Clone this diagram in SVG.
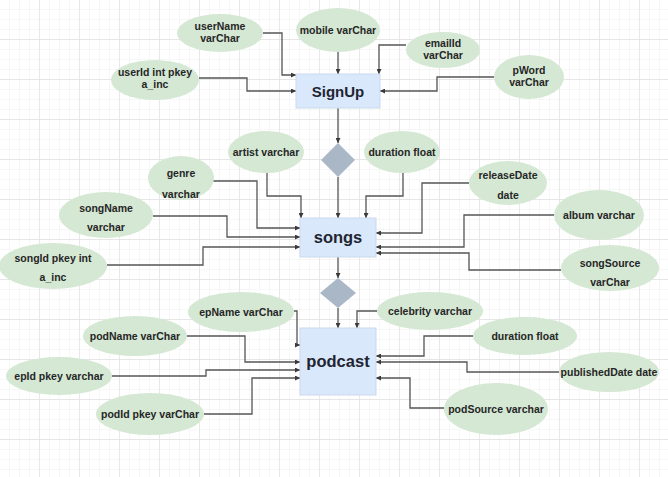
<svg xmlns="http://www.w3.org/2000/svg" width="668" height="477" viewBox="0 0 668 477">
<defs>
<pattern id="minor" width="10" height="10" patternUnits="userSpaceOnUse">
<path d="M10,0 V10 M0,10 H10" fill="none" stroke="#eeeeee" stroke-width="1"/>
</pattern>
<pattern id="major" width="40" height="40" patternUnits="userSpaceOnUse">
<rect width="40" height="40" fill="url(#minor)"/>
<path d="M40,0 V40 M0,40 H40" fill="none" stroke="#e0e0e0" stroke-width="1.3"/>
</pattern>
<marker id="arr" markerWidth="5" markerHeight="5" refX="5" refY="2.5" orient="auto" markerUnits="userSpaceOnUse">
<path d="M0,0 L5,2.5 L0,5 z" fill="#3a3a3a"/>
</marker>
<style>
.attr{fill:#d5e8d4;stroke:none}
.ent{fill:#dae8fc;stroke:#c9d9ee;stroke-width:1}
.rel{fill:#a9b7c6;stroke:none}
.t{font-family:"Liberation Sans",Arial,sans-serif;font-weight:bold;font-size:10.5px;fill:#262626;text-anchor:middle}
.et{font-family:"Liberation Sans",Arial,sans-serif;font-weight:bold;fill:#1f2530;text-anchor:middle}
.c{fill:none;stroke:#555;stroke-width:1.3;marker-end:url(#arr)}
</style>
</defs>
<rect width="668" height="477" fill="#ffffff"/>
<rect width="668" height="477" fill="url(#major)"/>

<g id="connectors">
<path class="c" d="M263,33 H282 V75 H296"/>
<path class="c" d="M338,52 V74"/>
<path class="c" d="M406,45 H379 V74"/>
<path class="c" d="M199,78 H247 V91 H296"/>
<path class="c" d="M494,77 H437 V91 H380"/>
<path class="c" d="M338,108 V143"/>
<path class="c" d="M338,177 V218"/>
<path class="c" d="M267,173 V196 H301 V218"/>
<path class="c" d="M213,181 H257 V228 H300"/>
<path class="c" d="M153,216 H227 V237 H300"/>
<path class="c" d="M107,265 H203 V247 H300"/>
<path class="c" d="M403,173 V196 H366 V218"/>
<path class="c" d="M469,183 H422 V233 H376"/>
<path class="c" d="M554,215 H464 V247 H376"/>
<path class="c" d="M561,270 H469 V253 H376"/>
<path class="c" d="M338,257 V278"/>
<path class="c" d="M338,308 V328"/>
<path class="c" d="M294,311 H297 V345 H300"/>
<path class="c" d="M187,336 H245 V362 H300"/>
<path class="c" d="M112,376 H206 V370 H300"/>
<path class="c" d="M204,414 H252 V378 H300"/>
<path class="c" d="M377,311 H357 V328"/>
<path class="c" d="M473,336 H424 V356 H376"/>
<path class="c" d="M559,372 H467 V362 H376"/>
<path class="c" d="M444,408 H410 V378 H376"/>
</g>

<g id="SignUp"><rect class="ent" x="296" y="74" width="84" height="34"/><text class="et" x="338" y="96.5" font-size="15">SignUp</text></g>
<g id="rel1"><polygon class="rel" points="338,143 355,160 338,177 321,160"/></g>
<g id="songs"><rect class="ent" x="300" y="218" width="76" height="39"/><text class="et" x="338" y="243" font-size="16.5">songs</text></g>
<g id="rel2"><polygon class="rel" points="338,278 356,293 338,308 320,293"/></g>
<g id="podcast"><rect class="ent" x="300" y="328" width="76" height="67"/><text class="et" x="338" y="367" font-size="16.5">podcast</text></g>

<g id="userName"><ellipse class="attr" cx="220" cy="33" rx="43" ry="19"/><text class="t" x="220" y="29.5">userName</text><text class="t" x="220" y="41.5">varChar</text></g>
<g id="mobile"><ellipse class="attr" cx="338" cy="30" rx="42" ry="22"/><text class="t" x="338" y="33.5">mobile varChar</text></g>
<g id="emailId"><ellipse class="attr" cx="443" cy="50" rx="37" ry="18"/><text class="t" x="443" y="46.5">emailId</text><text class="t" x="443" y="58.5">varChar</text></g>
<g id="userId"><ellipse class="attr" cx="155" cy="80" rx="44" ry="20"/><text class="t" x="155" y="76">userId int pkey</text><text class="t" x="155" y="88">a_inc</text></g>
<g id="pWord"><ellipse class="attr" cx="529" cy="77" rx="35" ry="22"/><text class="t" x="529" y="74">pWord</text><text class="t" x="529" y="86">varChar</text></g>

<g id="artist"><ellipse class="attr" cx="266" cy="152" rx="38" ry="21"/><text class="t" x="266" y="155.5">artist varchar</text></g>
<g id="genre"><ellipse class="attr" cx="181" cy="178" rx="33" ry="22"/><text class="t" x="181" y="176.5">genre</text><text class="t" x="181" y="197.5">varchar</text></g>
<g id="songName"><ellipse class="attr" cx="106" cy="215" rx="47" ry="23"/><text class="t" x="106" y="211.5">songName</text><text class="t" x="106" y="230.5">varchar</text></g>
<g id="songId"><ellipse class="attr" cx="53" cy="266" rx="54" ry="23"/><text class="t" x="53" y="261.5">songId pkey int</text><text class="t" x="53" y="280.5">a_inc</text></g>
<g id="durationSong"><ellipse class="attr" cx="402" cy="152" rx="38" ry="21"/><text class="t" x="402" y="155.5">duration float</text></g>
<g id="releaseDate"><ellipse class="attr" cx="508" cy="183" rx="39" ry="22"/><text class="t" x="508" y="178.5">releaseDate</text><text class="t" x="508" y="198.5">date</text></g>
<g id="album"><ellipse class="attr" cx="599" cy="215" rx="45" ry="25"/><text class="t" x="599" y="218.5">album varchar</text></g>
<g id="songSource"><ellipse class="attr" cx="610" cy="268" rx="49" ry="23"/><text class="t" x="610" y="266.5">songSource</text><text class="t" x="610" y="285.5">varChar</text></g>

<g id="epName"><ellipse class="attr" cx="241" cy="312" rx="53" ry="20"/><text class="t" x="241" y="315.5">epName varChar</text></g>
<g id="podName"><ellipse class="attr" cx="135" cy="336" rx="52" ry="20"/><text class="t" x="135" y="339.5">podName varChar</text></g>
<g id="epId"><ellipse class="attr" cx="59" cy="376" rx="53" ry="19"/><text class="t" x="59" y="379.5">epId pkey varchar</text></g>
<g id="podId"><ellipse class="attr" cx="150" cy="414" rx="54" ry="21"/><text class="t" x="150" y="417.5">podId pkey varChar</text></g>
<g id="celebrity"><ellipse class="attr" cx="430" cy="311" rx="53" ry="19"/><text class="t" x="430" y="314.5">celebrity varchar</text></g>
<g id="durationPod"><ellipse class="attr" cx="525" cy="336" rx="52" ry="19"/><text class="t" x="525" y="339.5">duration float</text></g>
<g id="publishedDate"><ellipse class="attr" cx="609" cy="372" rx="50" ry="20"/><text class="t" x="609" y="375.5">publishedDate date</text></g>
<g id="podSource"><ellipse class="attr" cx="496" cy="409" rx="52" ry="26"/><text class="t" x="496" y="412.5">podSource varchar</text></g>
</svg>
